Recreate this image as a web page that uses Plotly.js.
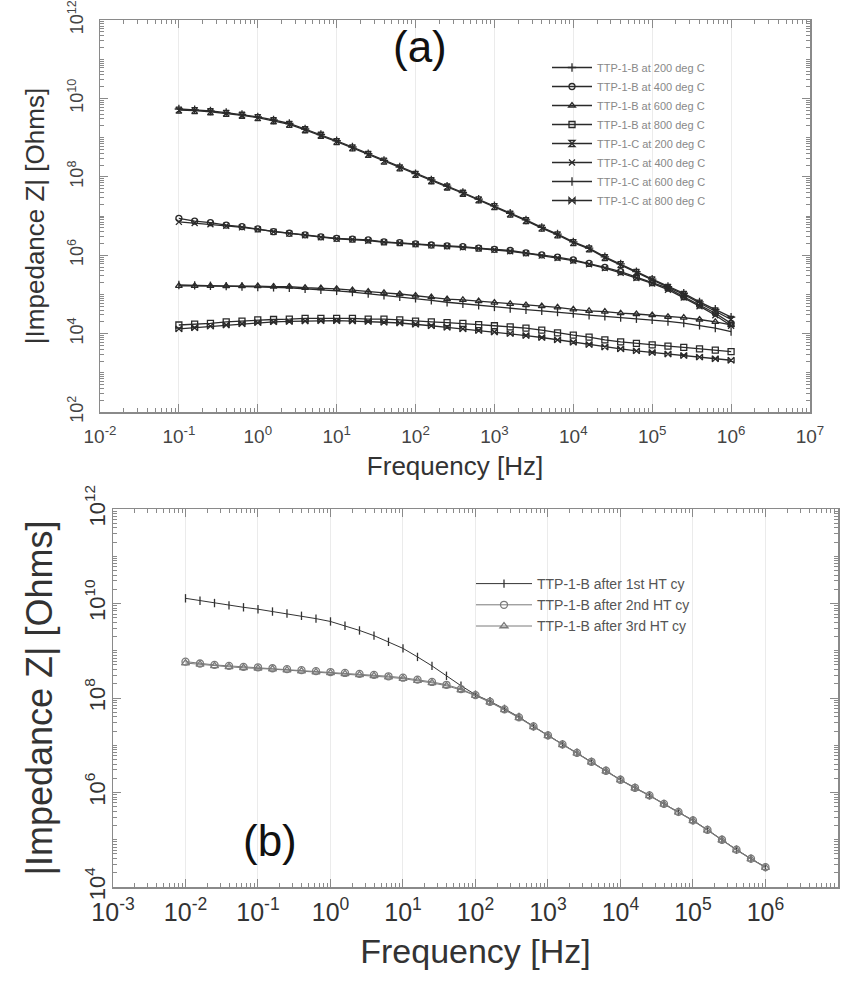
<!DOCTYPE html>
<html>
<head>
<meta charset="utf-8">
<script src="https://cdn.plot.ly/plotly-3.0.1.min.js"></script>
<style>html,body{margin:0;padding:0;background:#fff}#chart{width:854px;height:984px}</style>
</head>
<body>
<div id="chart"></div>
<script>
// ---------- Panel (a) data: frequency [Hz] and log10(|Z| / Ohm) ----------
const freqA = [0.1, 0.1585, 0.2512, 0.3981, 0.631, 1, 1.585, 2.512, 3.981, 6.31,
  10, 15.85, 25.12, 39.81, 63.1, 100, 158.5, 251.2, 398.1, 631,
  1000, 1585, 2512, 3981, 6310, 1e4, 15850, 25120, 39810, 63100,
  1e5, 158500, 251200, 398100, 631000, 1e6];

const logZ_B200 = [9.73,9.71,9.68,9.64,9.59,9.53,9.45,9.36,9.22,9.08,8.92,8.76,8.59,8.42,8.25,8.08,7.92,7.76,7.60,7.43,7.26,7.07,6.90,6.71,6.54,6.34,6.18,5.96,5.78,5.58,5.39,5.20,5.03,4.81,4.62,4.42];
const logZ_B400 = [6.94,6.87,6.83,6.77,6.73,6.67,6.60,6.56,6.52,6.47,6.43,6.41,6.39,6.34,6.32,6.29,6.26,6.24,6.22,6.18,6.15,6.12,6.06,6.01,5.95,5.88,5.79,5.69,5.58,5.44,5.30,5.16,4.94,4.73,4.52,4.26];
const logZ_B600 = [5.22,5.22,5.22,5.21,5.21,5.21,5.20,5.20,5.17,5.16,5.14,5.11,5.07,5.04,5.01,4.97,4.93,4.88,4.86,4.83,4.79,4.76,4.73,4.70,4.67,4.62,4.58,4.56,4.52,4.50,4.47,4.43,4.41,4.36,4.30,4.22];
const logZ_B800 = [4.22,4.24,4.26,4.30,4.32,4.35,4.36,4.37,4.39,4.39,4.39,4.39,4.37,4.37,4.35,4.32,4.30,4.28,4.26,4.23,4.20,4.17,4.14,4.09,4.02,3.96,3.91,3.84,3.79,3.75,3.71,3.68,3.65,3.61,3.58,3.54];
const logZ_C200 = [9.70,9.69,9.66,9.62,9.57,9.51,9.43,9.34,9.20,9.06,8.90,8.74,8.57,8.40,8.23,8.06,7.90,7.74,7.58,7.41,7.24,7.05,6.88,6.69,6.52,6.32,6.16,5.94,5.76,5.56,5.37,5.18,5.00,4.78,4.58,4.36];
const logZ_C400 = [6.85,6.82,6.79,6.75,6.71,6.66,6.60,6.55,6.51,6.46,6.42,6.40,6.37,6.33,6.31,6.28,6.25,6.23,6.20,6.17,6.14,6.10,6.05,5.99,5.93,5.86,5.77,5.67,5.55,5.42,5.28,5.12,4.92,4.70,4.47,4.20];
const logZ_C600 = [5.24,5.23,5.22,5.21,5.20,5.19,5.18,5.17,5.14,5.12,5.09,5.06,5.02,4.98,4.94,4.90,4.85,4.80,4.76,4.72,4.68,4.64,4.61,4.58,4.55,4.51,4.47,4.44,4.41,4.38,4.35,4.31,4.27,4.21,4.14,4.05];
const logZ_C800 = [4.12,4.15,4.19,4.22,4.25,4.28,4.30,4.31,4.32,4.33,4.33,4.32,4.31,4.29,4.27,4.24,4.20,4.16,4.12,4.08,4.04,4.00,3.95,3.90,3.84,3.78,3.72,3.66,3.61,3.56,3.52,3.48,3.44,3.40,3.36,3.32];

const namesA = ["TTP-1-B at 200 deg C","TTP-1-B at 400 deg C","TTP-1-B at 600 deg C","TTP-1-B at 800 deg C",
                "TTP-1-C at 200 deg C","TTP-1-C at 400 deg C","TTP-1-C at 600 deg C","TTP-1-C at 800 deg C"];

// ---------- Panel (b) data ----------
const freqB = [0.01, 0.01585, 0.02512, 0.03981, 0.0631,
  0.1, 0.1585, 0.2512, 0.3981, 0.631, 1, 1.585, 2.512, 3.981, 6.31,
  10, 15.85, 25.12, 39.81, 63.1, 100, 158.5, 251.2, 398.1, 631,
  1000, 1585, 2512, 3981, 6310, 1e4, 15850, 25120, 39810, 63100,
  1e5, 158500, 251200, 398100, 631000, 1e6];

const logZ_HT1 = [10.11,10.06,10.01,9.96,9.92,9.88,9.83,9.79,9.74,9.68,9.62,9.53,9.43,9.32,9.19,9.05,8.87,8.68,8.47,8.26,8.07,7.93,7.77,7.60,7.40,7.21,7.02,6.84,6.65,6.46,6.27,6.10,5.94,5.76,5.59,5.41,5.21,5.00,4.79,4.60,4.42];
const logZ_HT2 = [8.77,8.73,8.70,8.68,8.66,8.65,8.63,8.61,8.59,8.57,8.55,8.53,8.51,8.49,8.46,8.43,8.39,8.34,8.28,8.19,8.06,7.92,7.76,7.59,7.40,7.21,7.02,6.84,6.65,6.46,6.27,6.10,5.94,5.76,5.59,5.41,5.21,5.00,4.79,4.60,4.42];
const logZ_HT3 = [8.74,8.71,8.68,8.66,8.64,8.63,8.61,8.59,8.57,8.55,8.53,8.51,8.49,8.47,8.44,8.41,8.37,8.32,8.26,8.17,8.05,7.91,7.75,7.58,7.39,7.20,7.01,6.83,6.64,6.45,6.26,6.09,5.93,5.75,5.58,5.40,5.20,4.99,4.78,4.59,4.41];

const namesB = ["TTP-1-B after 1st HT cy","TTP-1-B after 2nd HT cy","TTP-1-B after 3rd HT cy"];

// ---------- tick labels ----------
const xTickValsA = [1e-2, 1e-1, 1e0, 1e1, 1e2, 1e3, 1e4, 1e5, 1e6, 1e7];
const xTickTextA = ["10<sup>-2</sup>","10<sup>-1</sup>","10<sup>0</sup>","10<sup>1</sup>","10<sup>2</sup>","10<sup>3</sup>","10<sup>4</sup>","10<sup>5</sup>","10<sup>6</sup>","10<sup>7</sup>"];
const yTickValsA = [1e2, 1e4, 1e6, 1e8, 1e10, 1e12];
const yTickTextA = ["10<sup>2</sup>","10<sup>4</sup>","10<sup>6</sup>","10<sup>8</sup>","10<sup>10</sup>","10<sup>12</sup>"];
const xTickValsB = [1e-3, 1e-2, 1e-1, 1e0, 1e1, 1e2, 1e3, 1e4, 1e5, 1e6, 1e7];
const xTickTextB = ["10<sup>-3</sup>","10<sup>-2</sup>","10<sup>-1</sup>","10<sup>0</sup>","10<sup>1</sup>","10<sup>2</sup>","10<sup>3</sup>","10<sup>4</sup>","10<sup>5</sup>","10<sup>6</sup>","10<sup>7</sup>"];
const yTickValsB = [1e4, 1e6, 1e8, 1e10, 1e12];
const yTickTextB = ["10<sup>4</sup>","10<sup>6</sup>","10<sup>8</sup>","10<sup>10</sup>","10<sup>12</sup>"];

// ---------- build traces ----------
const toOhm = arr => arr.map(v => Math.pow(10, v));
const seriesA = [logZ_B200, logZ_B400, logZ_B600, logZ_B800, logZ_C200, logZ_C400, logZ_C600, logZ_C800];
const symbolsA = ["cross-thin-open","circle-open","triangle-up-open","square-open","hourglass-open","x-thin-open","line-ns-open","bowtie-open"];

const traces = [];
seriesA.forEach((s, i) => {
  traces.push({
    x: freqA, y: toOhm(s), name: namesA[i], type: "scatter", mode: "lines+markers",
    xaxis: "x", yaxis: "y", legend: "legend",
    line: {color: "#2a2a2a", width: 1.3},
    marker: {symbol: symbolsA[i], size: 6, color: "#2a2a2a", line: {color: "#2a2a2a", width: 1.3}}
  });
});
const seriesB = [logZ_HT1, logZ_HT2, logZ_HT3];
const symbolsB = ["line-ns-open","circle-open","triangle-up-open"];
const colorsB = ["#333333","#7a7a7a","#7a7a7a"];
const sizesB = [6, 7, 7];
seriesB.forEach((s, i) => {
  traces.push({
    x: freqB, y: toOhm(s), name: namesB[i], type: "scatter", mode: "lines+markers",
    xaxis: "x2", yaxis: "y2", legend: "legend2",
    line: {color: colorsB[i], width: 1},
    marker: {symbol: symbolsB[i], size: sizesB[i], color: colorsB[i], line: {color: colorsB[i], width: 1.3}}
  });
});

const FONT = "Liberation Sans, Arial, sans-serif";
const W = 854, H = 984;
const px = v => v / W;
const py = v => 1 - v / H;

const axBase = {
  type: "log", showline: true, linecolor: "#8a8a8a", linewidth: 1.5, mirror: "allticks",
  ticks: "inside", tickcolor: "#8a8a8a", tickwidth: 1, zeroline: false,
  tickmode: "array", automargin: false, fixedrange: true
};

const layout = {
  width: W, height: H,
  margin: {l: 0, r: 0, t: 0, b: 0},
  paper_bgcolor: "#ffffff", plot_bgcolor: "#ffffff",
  font: {family: FONT, color: "#333"},
  showlegend: true,
  xaxis: Object.assign({}, axBase, {
    domain: [px(100), px(810)], anchor: "y", range: [-2, 7.0005], ticklen: 8,
    tickvals: xTickValsA, ticktext: xTickTextA,
    showgrid: true, gridcolor: "#ebebeb", gridwidth: 1,
    minor: {ticks: "inside", ticklen: 4, dtick: "D1", tickcolor: "#8a8a8a", showgrid: false},
    tickfont: {size: 19, color: "#444", family: FONT}, ticklabelstandoff: 7,
    title: {text: "Frequency [Hz]", font: {size: 26, color: "#333", family: FONT}, standoff: 10}
  }),
  yaxis: Object.assign({}, axBase, {
    domain: [py(412), py(20)], anchor: "x", range: [2, 12.0005], ticklen: 8, tickangle: -90,
    tickvals: yTickValsA, ticktext: yTickTextA,
    showgrid: false,
    minor: {ticks: "inside", ticklen: 4, dtick: "D1", tickcolor: "#8a8a8a", showgrid: false},
    tickfont: {size: 18, color: "#444", family: FONT}, ticklabelstandoff: 8,
    title: {text: "|Impedance Z| [Ohms]", font: {size: 26, color: "#333", family: FONT}, standoff: 12}
  }),
  xaxis2: Object.assign({}, axBase, {
    domain: [px(113), px(838)], anchor: "y2", range: [-3, 7.0005], ticklen: 8,
    tickvals: xTickValsB, ticktext: xTickTextB,
    showgrid: true, gridcolor: "#ebebeb", gridwidth: 1,
    minor: {ticks: "inside", ticklen: 4, dtick: "D1", tickcolor: "#8a8a8a", showgrid: false},
    tickfont: {size: 25, color: "#333", family: FONT}, ticklabelstandoff: 2,
    title: {text: "Frequency [Hz]", font: {size: 34, color: "#333", family: FONT}, standoff: 14}
  }),
  yaxis2: Object.assign({}, axBase, {
    domain: [py(887), py(509)], anchor: "x2", range: [4, 12.0005], ticklen: 8, tickangle: -90,
    tickvals: yTickValsB, ticktext: yTickTextB,
    showgrid: false,
    minor: {ticks: "inside", ticklen: 4, dtick: "D1", tickcolor: "#8a8a8a", showgrid: false},
    tickfont: {size: 22, color: "#333", family: FONT}, ticklabelstandoff: -2,
    title: {text: "|Impedance Z| [Ohms]", font: {size: 36, color: "#333", family: FONT}, standoff: 18}
  }),
  legend: {
    x: px(547), y: py(53), xanchor: "left", yanchor: "top",
    bgcolor: "rgba(0,0,0,0)", borderwidth: 0, itemwidth: 40,
    font: {size: 11, color: "#888", family: FONT}, itemclick: false, itemdoubleclick: false
  },
  legend2: {
    x: px(471), y: py(568), xanchor: "left", yanchor: "top",
    bgcolor: "rgba(0,0,0,0)", borderwidth: 0, itemwidth: 56,
    font: {size: 14, color: "#555", family: FONT}, itemclick: false, itemdoubleclick: false
  },
  annotations: [
    {text: "(a)", x: px(420), y: py(47), xref: "paper", yref: "paper", showarrow: false,
     font: {size: 44, color: "#111", family: FONT}, xanchor: "center", yanchor: "middle"},
    {text: "(b)", x: px(270), y: py(840), xref: "paper", yref: "paper", showarrow: false,
     font: {size: 44, color: "#111", family: FONT}, xanchor: "center", yanchor: "middle"}
  ]
};

Plotly.newPlot("chart", traces, layout, {displayModeBar: false, staticPlot: true});
</script>
</body>
</html>
